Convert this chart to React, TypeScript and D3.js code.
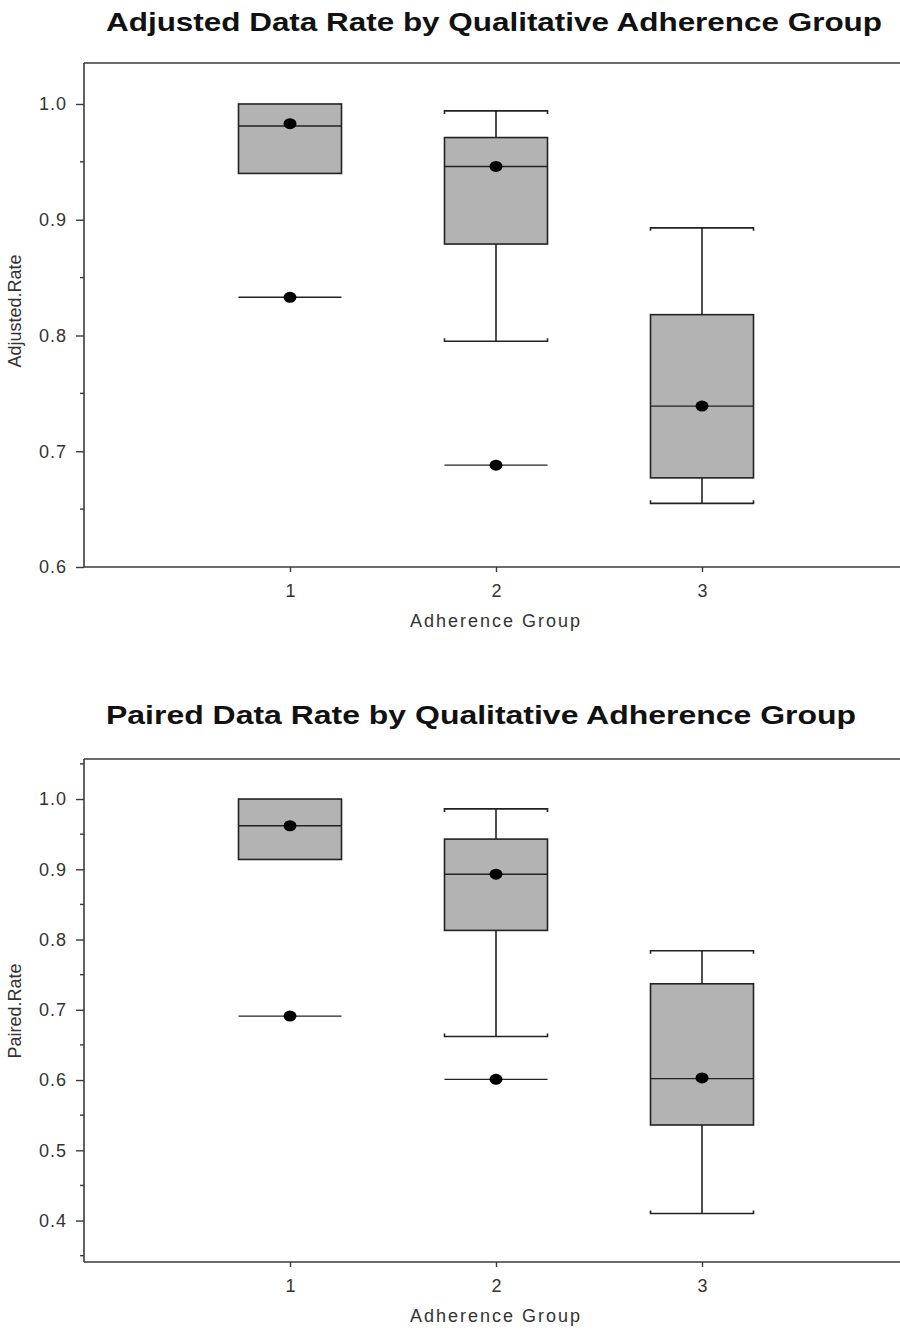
import React, { useEffect, useRef } from 'react';
import * as d3 from 'd3';

// adherence groups on the x axis
const groups = [1, 2, 3];

// Adjusted data rate box stats
const adjWhiskerHigh = [1.0, 0.994, 0.893];
const adjQ3 = [1.0, 0.971, 0.818];
const adjMedian = [0.981, 0.946, 0.739];
const adjQ1 = [0.94, 0.879, 0.677];
const adjWhiskerLow = [0.94, 0.795, 0.655];
const adjMean = [0.983, 0.946, 0.739];
const adjOutliers = [[0.833], [0.688], []];

// Paired data rate box stats
const pairWhiskerHigh = [1.0, 0.986, 0.784];
const pairQ3 = [1.0, 0.943, 0.737];
const pairMedian = [0.962, 0.893, 0.602];
const pairQ1 = [0.914, 0.813, 0.536];
const pairWhiskerLow = [0.914, 0.662, 0.41];
const pairMean = [0.962, 0.893, 0.603];
const pairOutliers = [[0.691], [0.601], []];

const adjMajorTicks = [0.6, 0.7, 0.8, 0.9, 1.0];
const adjMinorTicks = [0.65, 0.75, 0.85, 0.95];
const pairMajorTicks = [0.4, 0.5, 0.6, 0.7, 0.8, 0.9, 1.0];
const pairMinorTicks = [0.35, 0.45, 0.55, 0.65, 0.75, 0.85, 0.95, 1.05];

const FONT = 'Liberation Sans, Arial, sans-serif';
const AXIS = '#3a3a3a';
const INK = '#222';

function drawPanel(svg, cfg) {
  const { top, bottom, left, right, yDomain, title, titleY, titleLen, yLabel, stats, majors, minors } = cfg;

  const x = d3.scaleLinear().domain([0, 4]).range([left, right]);
  const y = d3.scaleLinear().domain(yDomain).range([bottom, top]);
  const g = svg.append('g');

  // title
  g.append('text')
    .attr('x', 106).attr('y', titleY)
    .attr('textLength', titleLen).attr('lengthAdjust', 'spacingAndGlyphs')
    .style('font-family', FONT).style('font-weight', 'bold').style('font-size', '25px')
    .style('fill', '#111')
    .text(title);

  // frame: top border, left axis, bottom axis
  g.append('line').attr('x1', left).attr('x2', 900).attr('y1', top).attr('y2', top)
    .style('stroke', AXIS).style('stroke-width', 1.6);

  const yAxis = d3.axisLeft(y).tickValues(majors).tickFormat(d3.format('.1f'))
    .tickSizeInner(8).tickSizeOuter(0).tickPadding(9);
  const ya = g.append('g').attr('transform', `translate(${left},0)`).call(yAxis);
  ya.select('.domain').attr('d', `M0,${top}V${bottom}`).style('stroke', AXIS).style('stroke-width', 1.6);
  ya.selectAll('.tick line').style('stroke', AXIS).style('stroke-width', 1.4);
  ya.selectAll('.tick text')
    .style('font-family', FONT).style('font-size', '18px').style('fill', '#333')
    .style('letter-spacing', '1px');
  ya.selectAll('.minor').data(minors).enter().append('line')
    .attr('x1', -4).attr('x2', 0).attr('y1', d => y(d)).attr('y2', d => y(d))
    .style('stroke', AXIS).style('stroke-width', 1.4);

  const xAxis = d3.axisBottom(x).tickValues(groups).tickFormat(d3.format('d'))
    .tickSizeInner(5).tickSizeOuter(0).tickPadding(12);
  const xa = g.append('g').attr('transform', `translate(0,${bottom})`).call(xAxis);
  xa.select('.domain').attr('d', `M${left},0H900`).style('stroke', AXIS).style('stroke-width', 1.6);
  xa.selectAll('.tick line').style('stroke', AXIS).style('stroke-width', 1.4);
  xa.selectAll('.tick text')
    .style('font-family', FONT).style('font-size', '18px').style('fill', '#333');

  g.append('text')
    .attr('x', x(2)).attr('y', bottom + 60)
    .attr('text-anchor', 'middle')
    .style('font-family', FONT).style('font-size', '18px').style('fill', '#333')
    .style('letter-spacing', '2px')
    .text('Adherence Group');

  g.append('text')
    .attr('transform', `translate(21,${cfg.yLabelY}) rotate(-90)`)
    .attr('text-anchor', 'middle')
    .style('font-family', FONT).style('font-size', '18px').style('fill', '#333')
    .text(yLabel);

  const halfW = 0.25;
  const capTick = 3;

  groups.forEach((grp, i) => {
    const x0 = x(grp - halfW);
    const x1 = x(grp + halfW);
    const cx = x(grp);
    const s = stats;

    // whiskers
    if (s.wHigh[i] > s.q3[i]) {
      g.append('line').attr('x1', cx).attr('x2', cx).attr('y1', y(s.wHigh[i])).attr('y2', y(s.q3[i]))
        .style('stroke', INK).style('stroke-width', 1.6);
      g.append('path')
        .attr('d', `M${x0},${y(s.wHigh[i]) + capTick}V${y(s.wHigh[i])}H${x1}V${y(s.wHigh[i]) + capTick}`)
        .style('fill', 'none').style('stroke', INK).style('stroke-width', 1.6);
    }
    if (s.wLow[i] < s.q1[i]) {
      g.append('line').attr('x1', cx).attr('x2', cx).attr('y1', y(s.q1[i])).attr('y2', y(s.wLow[i]))
        .style('stroke', INK).style('stroke-width', 1.6);
      g.append('path')
        .attr('d', `M${x0},${y(s.wLow[i]) - capTick}V${y(s.wLow[i])}H${x1}V${y(s.wLow[i]) - capTick}`)
        .style('fill', 'none').style('stroke', INK).style('stroke-width', 1.6);
    }

    // box
    g.append('rect')
      .attr('x', x0).attr('y', y(s.q3[i]))
      .attr('width', x1 - x0).attr('height', y(s.q1[i]) - y(s.q3[i]))
      .style('fill', '#b3b3b3').style('stroke', INK).style('stroke-width', 1.6);

    // median
    g.append('line').attr('x1', x0).attr('x2', x1).attr('y1', y(s.median[i])).attr('y2', y(s.median[i]))
      .style('stroke', INK).style('stroke-width', 1.4);

    // outliers drawn as flat bars with a dot
    s.outliers[i].forEach(v => {
      g.append('line').attr('x1', x0).attr('x2', x1).attr('y1', y(v)).attr('y2', y(v))
        .style('stroke', INK).style('stroke-width', 1.4);
      g.append('ellipse').attr('cx', cx).attr('cy', y(v)).attr('rx', 6.5).attr('ry', 5.5)
        .style('fill', '#000');
    });

    // mean
    g.append('ellipse').attr('cx', cx).attr('cy', y(s.mean[i])).attr('rx', 6.5).attr('ry', 5.5)
      .style('fill', '#000');
  });
}

export default function App() {
  const ref = useRef(null);

  useEffect(() => {
    const svg = d3.select(ref.current);
    svg.selectAll('*').remove();

    drawPanel(svg, {
      top: 63, bottom: 567, left: 84, right: 908,
      yDomain: [0.6, 1.0354],
      title: 'Adjusted Data Rate by Qualitative Adherence Group',
      titleY: 31, titleLen: 776,
      yLabel: 'Adjusted.Rate', yLabelY: 311,
      majors: adjMajorTicks, minors: adjMinorTicks,
      stats: {
        wHigh: adjWhiskerHigh, q3: adjQ3, median: adjMedian, q1: adjQ1,
        wLow: adjWhiskerLow, mean: adjMean, outliers: adjOutliers,
      },
    });

    drawPanel(svg, {
      top: 759, bottom: 1262, left: 84, right: 908,
      yDomain: [0.341, 1.057],
      title: 'Paired Data Rate by Qualitative Adherence Group',
      titleY: 724, titleLen: 750,
      yLabel: 'Paired.Rate', yLabelY: 1011,
      majors: pairMajorTicks, minors: pairMinorTicks,
      stats: {
        wHigh: pairWhiskerHigh, q3: pairQ3, median: pairMedian, q1: pairQ1,
        wLow: pairWhiskerLow, mean: pairMean, outliers: pairOutliers,
      },
    });
  }, []);

  return (
    <svg ref={ref} width={900} height={1333}
      style={{ position: 'absolute', left: 0, top: 0, background: '#fff' }} />
  );
}
